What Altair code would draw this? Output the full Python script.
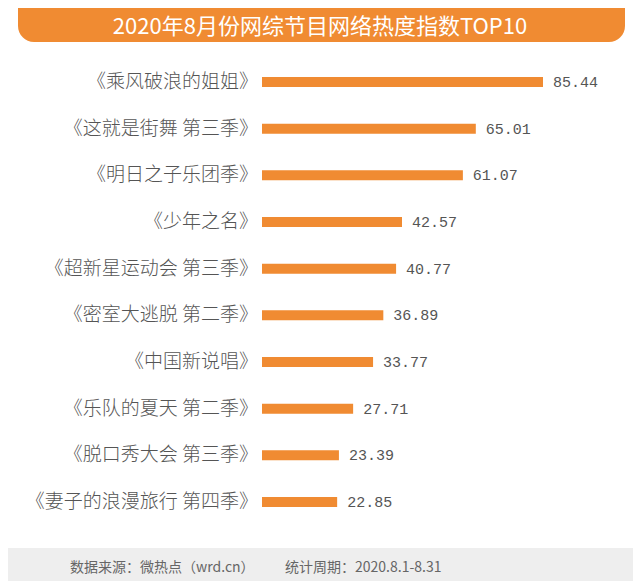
import altair as alt
import pandas as pd

names = [
    "《乘风破浪的姐姐》",
    "《这就是街舞 第三季》",
    "《明日之子乐团季》",
    "《少年之名》",
    "《超新星运动会 第三季》",
    "《密室大逃脱 第二季》",
    "《中国新说唱》",
    "《乐队的夏天 第二季》",
    "《脱口秀大会 第三季》",
    "《妻子的浪漫旅行 第四季》",
]
values = [85.44, 65.01, 61.07, 42.57, 40.77, 36.89, 33.77, 27.71, 23.39, 22.85]

title_text = "2020年8月份网综节目网络热度指数TOP10"
source_text = "数据来源：微热点（wrd.cn）"
period_text = "统计周期：2020.8.1-8.31"

ORANGE = "#F08B32"
FONT = "Noto Sans CJK SC"

df = pd.DataFrame({"name": names, "value": values})
one = pd.DataFrame({"k": [0]})

yenc = alt.Y("name:N", sort=names,
             scale=alt.Scale(domain=names, range=[50.7, 517.3], paddingInner=0, paddingOuter=0),
             axis=None)
xscale = alt.Scale(domain=[0, 85.44], range=[254, 535])

bars = alt.Chart(df).mark_bar(color=ORANGE, size=10).encode(
    x=alt.X("value:Q", scale=xscale, axis=None),
    y=yenc,
)
vals = alt.Chart(df).mark_text(align="left", baseline="middle", dx=10, fontSize=15,
                               color="#555555", font="Liberation Mono").encode(
    x=alt.X("value:Q", scale=xscale, axis=None),
    y=yenc,
    text=alt.Text("value:Q", format=".2f"),
)
labels = alt.Chart(df).mark_text(align="right", baseline="middle", fontSize=19,
                                 color="#555555", font=FONT, fontWeight=300).encode(
    x=alt.value(250),
    y=yenc,
    text="name:N",
)

banner = alt.Chart(one).mark_rect(color=ORANGE, cornerRadiusBottomLeft=16,
                                  cornerRadiusBottomRight=16).encode(
    x=alt.value(10), x2=alt.value(617), y=alt.value(0), y2=alt.value(34)
)
title = alt.Chart(one).mark_text(align="center", baseline="middle", fontSize=22,
                                 color="white", font=FONT).encode(
    x=alt.value(312), y=alt.value(19), text=alt.value(title_text)
)
footer = alt.Chart(one).mark_rect(color="#EEEEEE").encode(
    x=alt.value(0), x2=alt.value(625), y=alt.value(540), y2=alt.value(575)
)
src = alt.Chart(one).mark_text(align="left", baseline="middle", fontSize=14,
                               color="#666666", font=FONT).encode(
    x=alt.value(62), y=alt.value(560), text=alt.value(source_text)
)
per = alt.Chart(one).mark_text(align="left", baseline="middle", fontSize=14,
                               color="#666666", font=FONT).encode(
    x=alt.value(277), y=alt.value(560), text=alt.value(period_text)
)

chart = alt.layer(banner, title, footer, src, per, bars, vals, labels).properties(
    width=625, height=573,
    autosize=alt.AutoSizeParams(type="none"),
    padding=0,
).configure_view(stroke=None)

chart.save("out.html", embed_options={"renderer": "svg", "actions": False})
